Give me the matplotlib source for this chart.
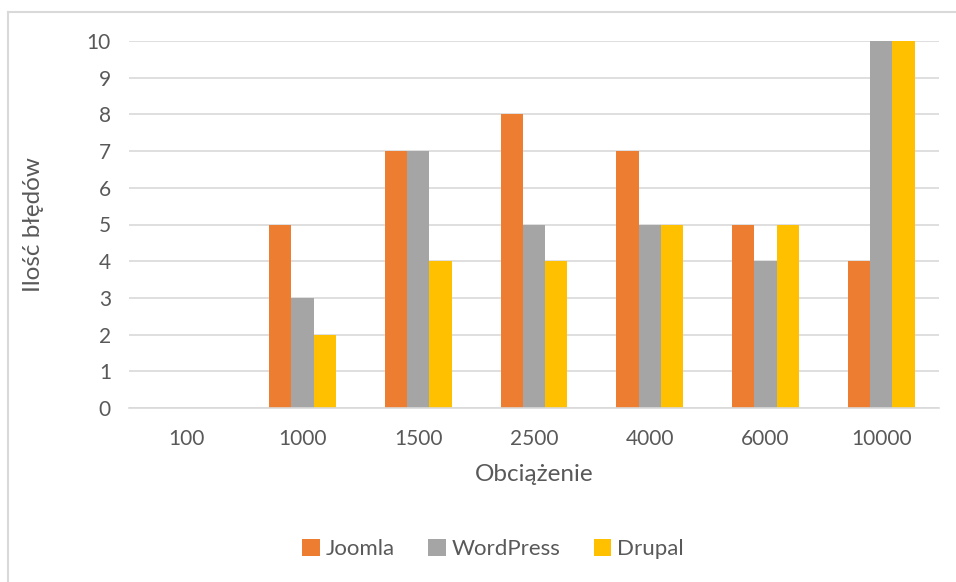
import matplotlib
matplotlib.use("Agg")
import matplotlib.pyplot as plt
import numpy as np
from matplotlib.lines import Line2D

categories = ["100", "1000", "1500", "2500", "4000", "6000", "10000"]
joomla = [0, 5, 7, 8, 7, 5, 4]
wordpress = [0, 3, 7, 5, 5, 4, 10]
drupal = [0, 2, 4, 4, 5, 5, 10]
series_names = ["Joomla", "WordPress", "Drupal"]
colors = ["#ED7D31", "#A5A5A5", "#FFC000"]
yticks = list(range(0, 11))

plt.rcParams['font.family'] = ['Lato', 'DejaVu Sans']
txt = "#595959"

fig = plt.figure(figsize=(9.56, 5.82), dpi=100)
W, H = 956, 582
ax = fig.add_axes([129 / W, 1 - 408 / H, (939 - 129) / W, (408 - 41) / H])

x = np.arange(len(categories))
bw = 0.193
for i, (vals, name, c) in enumerate(zip([joomla, wordpress, drupal], series_names, colors)):
    ax.bar(x + (i - 1) * bw, vals, width=bw, color=c, label=name, zorder=3)

ax.set_xlim(-0.5, len(categories) - 0.5)
ax.set_ylim(0, 10)
ax.set_yticks(yticks)
ax.set_xticks(x)
ax.set_xticklabels(categories)
ax.tick_params(axis='both', length=0, labelsize=15, colors=txt)
ax.tick_params(axis='y', pad=13)
ax.tick_params(axis='x', pad=15)
ax.grid(axis='y', color="#D9D9D9", linewidth=1.2, zorder=0)
for s in ['top', 'right', 'left']:
    ax.spines[s].set_visible(False)
ax.spines['bottom'].set_color("#D9D9D9")
ax.spines['bottom'].set_linewidth(1.2)
ax.spines['bottom'].set_zorder(4)

ax.set_xlabel("Obciążenie", fontsize=17.5, color=txt, labelpad=11)
ax.set_ylabel("Ilość błędów", fontsize=17.5, color=txt)
ax.yaxis.set_label_coords((44 - 129) / (939 - 129), 0.5)

handles, labels = ax.get_legend_handles_labels()
leg = fig.legend(handles, labels, loc='center', bbox_to_anchor=(493 / W, 1 - 549 / H),
                 ncol=3, frameon=False, fontsize=16, handlelength=0.8, handleheight=0.8,
                 handletextpad=0.25, columnspacing=1.5, labelcolor=txt)

# chart area border (top and left visible)
fig.add_artist(Line2D([8 / W, 8 / W], [0, 1 - 12 / H], transform=fig.transFigure, color="#D9D9D9", lw=1.5))
fig.add_artist(Line2D([8 / W, 1], [1 - 12 / H, 1 - 12 / H], transform=fig.transFigure, color="#D9D9D9", lw=1.5))

fig.savefig("out.png", dpi=100)
